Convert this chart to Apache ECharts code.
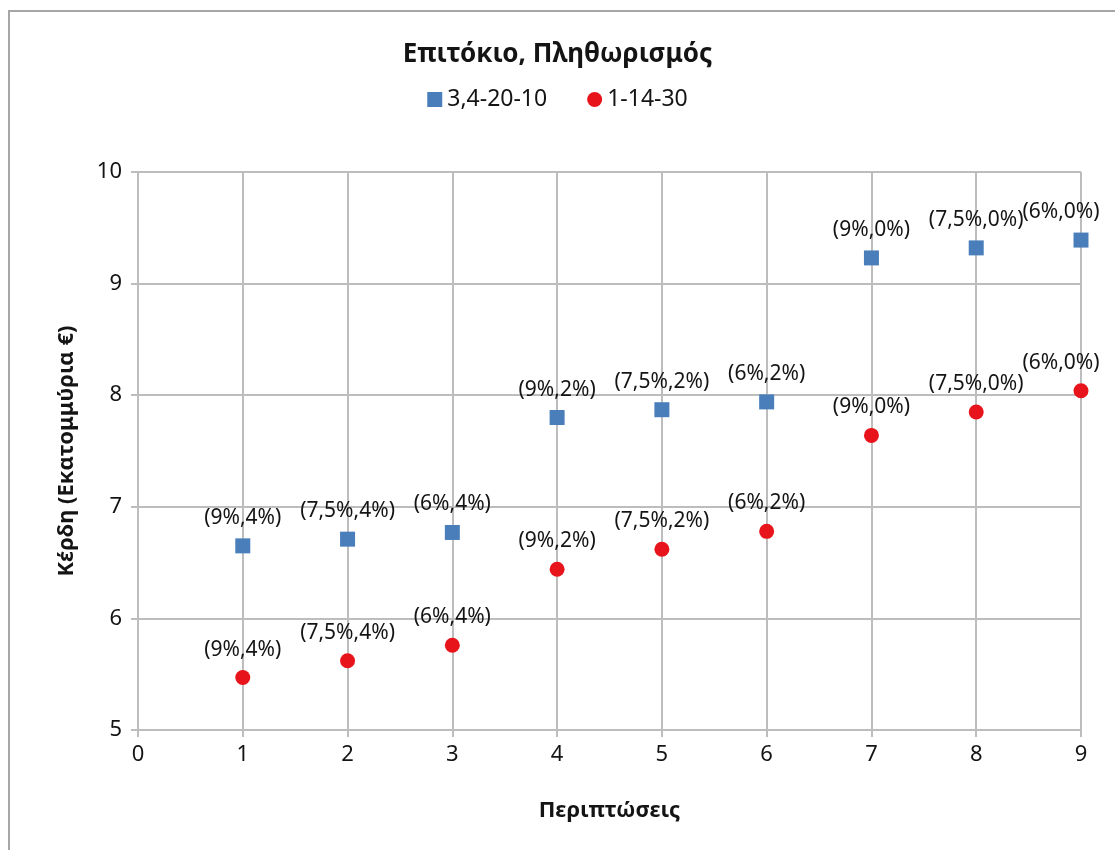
<!DOCTYPE html>
<html>
<head>
<meta charset="utf-8">
<title>Επιτόκιο, Πληθωρισμός</title>
<script src="https://cdn.jsdelivr.net/npm/echarts@6/dist/echarts.min.js"></script>
<style>
  html, body { margin: 0; padding: 0; background: #fff; }
  #chart { width: 1115px; height: 850px; }
</style>
</head>
<body>
<div id="chart"></div>
<script>
// περιπτώσεις (x) και τιμές των δύο σειρών
const cases = [1, 2, 3, 4, 5, 6, 7, 8, 9];
const seriesBlue = [6.65, 6.71, 6.77, 7.80, 7.87, 7.94, 9.23, 9.32, 9.39];
const seriesRed = [5.47, 5.62, 5.76, 6.44, 6.62, 6.78, 7.64, 7.85, 8.04];
const pointLabels = ['(9%,4%)', '(7,5%,4%)', '(6%,4%)', '(9%,2%)', '(7,5%,2%)', '(6%,2%)', '(9%,0%)', '(7,5%,0%)', '(6%,0%)'];
const xTicks = [0, 1, 2, 3, 4, 5, 6, 7, 8, 9];
const yTicks = [5, 6, 7, 8, 9, 10];

const font = "'Noto Sans', 'Open Sans', sans-serif";
const gridColor = '#bdbdbd';
const textColor = '#141414';

// τελευταίο σημείο: η ετικέτα μετακινείται λίγο αριστερά για να μη κοπεί
function buildData (values) {
  return values.map((v, i) => {
    const item = { value: [cases[i], v], name: pointLabels[i] };
    if (i === values.length - 1) {
      item.label = { offset: [-20, 0] };
    }
    return item;
  });
}

const labelStyle = {
  show: true,
  position: 'top',
  distance: 10,
  formatter: (p) => p.name,
  fontFamily: font,
  fontSize: 21,
  color: textColor
};

const chart = echarts.init(document.getElementById('chart'));
const option = {
  animation: false,
  backgroundColor: '#fff',
  graphic: [{
    type: 'rect',
    shape: { x: 9, y: 11, width: 1140, height: 900 },
    style: { fill: 'none', stroke: '#a6a6a6', lineWidth: 2 },
    silent: true
  }],
  title: {
    text: 'Επιτόκιο, Πληθωρισμός',
    left: 'center',
    top: 37,
    textStyle: { fontFamily: font, fontSize: 26, fontWeight: 'bold', color: textColor }
  },
  legend: {
    top: 83,
    left: 'center',
    itemWidth: 15,
    itemHeight: 15,
    itemGap: 40,
    textStyle: { fontFamily: font, fontSize: 23, color: textColor },
    data: [
      { name: '3,4-20-10', icon: 'rect' },
      { name: '1-14-30', icon: 'circle' }
    ]
  },
  grid: { left: 138, right: 34, top: 172, bottom: 120 },
  xAxis: {
    type: 'value',
    min: xTicks[0],
    max: xTicks[xTicks.length - 1],
    interval: 1,
    name: 'Περιπτώσεις',
    nameLocation: 'middle',
    nameGap: 70,
    nameTextStyle: { fontFamily: font, fontSize: 22, fontWeight: 'bold', color: textColor },
    axisLine: { show: true, lineStyle: { color: gridColor, width: 2 } },
    axisTick: { show: true, length: 7, lineStyle: { color: gridColor, width: 2 } },
    axisLabel: { fontFamily: font, fontSize: 22, color: textColor, margin: 14 },
    splitLine: { show: true, lineStyle: { color: gridColor, width: 2 } }
  },
  yAxis: {
    type: 'value',
    min: yTicks[0],
    max: yTicks[yTicks.length - 1],
    interval: 1,
    name: 'Κέρδη (Εκατομμύρια €)',
    nameLocation: 'middle',
    nameGap: 60,
    nameTextStyle: { fontFamily: font, fontSize: 22, fontWeight: 'bold', color: textColor },
    axisLine: { show: true, lineStyle: { color: gridColor, width: 2 } },
    axisTick: { show: true, length: 7, lineStyle: { color: gridColor, width: 2 } },
    axisLabel: { fontFamily: font, fontSize: 22, color: textColor, margin: 16 },
    splitLine: { show: true, lineStyle: { color: gridColor, width: 2 } }
  },
  series: [
    {
      name: '3,4-20-10',
      type: 'scatter',
      symbol: 'rect',
      symbolSize: 15,
      itemStyle: { color: '#4a7ebb', opacity: 1 },
      label: labelStyle,
      data: buildData(seriesBlue)
    },
    {
      name: '1-14-30',
      type: 'scatter',
      symbol: 'circle',
      symbolSize: 15,
      itemStyle: { color: '#e8141b', opacity: 1 },
      label: labelStyle,
      data: buildData(seriesRed)
    }
  ]
};
chart.setOption(option);
</script>
</body>
</html>
